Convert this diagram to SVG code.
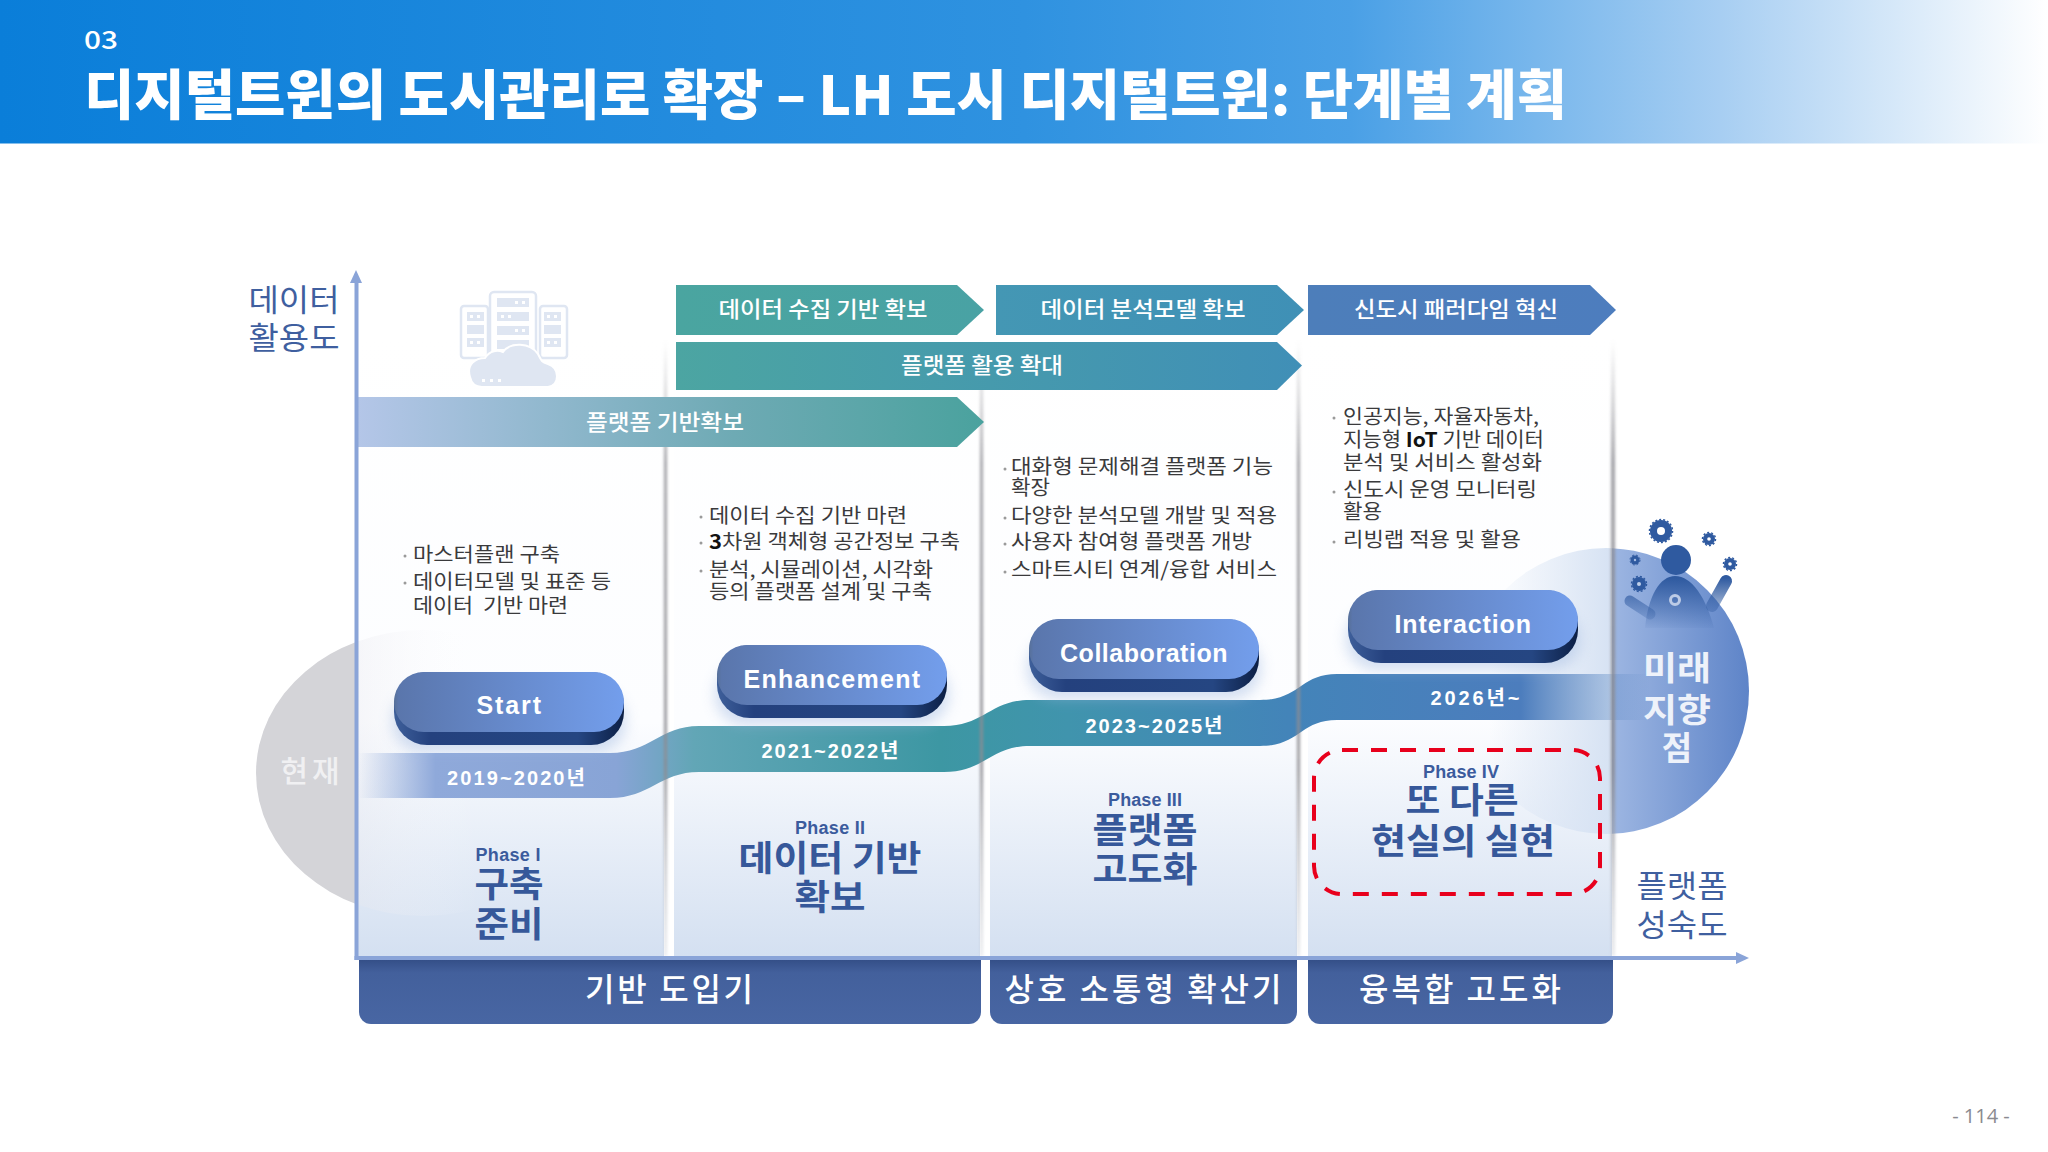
<svg xmlns="http://www.w3.org/2000/svg" width="2048" height="1152" viewBox="0 0 2048 1152">
<style>
text{font-family:"Noto Sans CJK KR","Noto Sans",sans-serif}
.lat{font-family:"Liberation Sans","Noto Sans CJK KR",sans-serif}
.h{fill:#fff;font-weight:900}
.al{fill:#fff;font-size:22px;font-weight:500;text-anchor:middle}
.b{fill:#3a3a3c;font-size:20px;font-weight:400}
.dot{fill:#9a9a9a}
.btn{fill:#fff;font-size:25px;font-weight:700;text-anchor:middle;letter-spacing:.5px}
.yr{fill:#fff;font-size:20px;font-weight:700;text-anchor:middle}
.ph{fill:#3b5b9d;font-size:18px;font-weight:700;text-anchor:middle}
.pt{fill:#36589a;font-size:35px;font-weight:700;text-anchor:middle}
.st{fill:#fff;font-size:32px;font-weight:500;text-anchor:middle}
.ax{fill:#3f5f9f;font-size:31px;font-weight:400;text-anchor:middle}
.fut{fill:#eef2fa;font-size:33px;font-weight:700;text-anchor:middle}
.disc{fill:#2f5aa0}
.ring{fill:none;stroke:#2f5aa0;stroke-dasharray:2 2}
.sh{fill:url(#shadow);filter:url(#b2)}
.ic{fill:#dfe6f2}
.wd{fill:#fff}
</style>
<defs>
<linearGradient id="head" x1="0" x2="1" y1="0" y2="0"><stop offset="0" stop-color="#0a7ed9"/><stop offset=".5" stop-color="#2f92e0"/><stop offset=".66" stop-color="#4aa0e6"/><stop offset=".84" stop-color="#a7cef2"/><stop offset="1" stop-color="#fff"/></linearGradient>
<linearGradient id="col" x1="0" x2="0" y1="0" y2="1"><stop offset="0" stop-color="#fff"/><stop offset=".62" stop-color="#fcfdff"/><stop offset="1" stop-color="#d4e0f1"/></linearGradient>
<linearGradient id="shadow" x1="0" x2="0" y1="0" y2="1"><stop offset="0" stop-color="#a0a0a6" stop-opacity="0"/><stop offset=".2" stop-color="#8c8c92" stop-opacity=".8"/><stop offset=".7" stop-color="#8c8c92" stop-opacity=".9"/><stop offset="1" stop-color="#b8bcc6" stop-opacity=".3"/></linearGradient>
<linearGradient id="a1" gradientUnits="userSpaceOnUse" x1="676" x2="984" y1="0" y2="0"><stop offset="0" stop-color="#4aa5a0"/><stop offset="1" stop-color="#49a2a4"/></linearGradient>
<linearGradient id="a2" gradientUnits="userSpaceOnUse" x1="996" x2="1304" y1="0" y2="0"><stop offset="0" stop-color="#4497b4"/><stop offset="1" stop-color="#3f90b6"/></linearGradient>
<linearGradient id="a3" gradientUnits="userSpaceOnUse" x1="1308" x2="1616" y1="0" y2="0"><stop offset="0" stop-color="#4d7eba"/><stop offset="1" stop-color="#4d7dbe"/></linearGradient>
<linearGradient id="a4" gradientUnits="userSpaceOnUse" x1="676" x2="1304" y1="0" y2="0"><stop offset="0" stop-color="#4ca5a2"/><stop offset="1" stop-color="#408fb7"/></linearGradient>
<linearGradient id="a5" gradientUnits="userSpaceOnUse" x1="358" x2="984" y1="0" y2="0"><stop offset="0" stop-color="#b4c6e8"/><stop offset=".6" stop-color="#6eaab4"/><stop offset="1" stop-color="#4aa29e"/></linearGradient>
<linearGradient id="wave" gradientUnits="userSpaceOnUse" x1="358" x2="1650" y1="0" y2="0"><stop offset="0" stop-color="#8fa9da" stop-opacity="0"/><stop offset=".06" stop-color="#8fa9da"/><stop offset=".2" stop-color="#88a4d6"/><stop offset=".26" stop-color="#62a6b6"/><stop offset=".45" stop-color="#3d97a3"/><stop offset=".55" stop-color="#4094ad"/><stop offset=".72" stop-color="#4384b9"/><stop offset=".9" stop-color="#4c7dbd"/><stop offset="1" stop-color="#4c7dbd" stop-opacity="0"/></linearGradient>
<linearGradient id="btop" x1="0" x2="1" y1="0" y2="0"><stop offset="0" stop-color="#577098"/><stop offset=".02" stop-color="#5a76ac"/><stop offset="1" stop-color="#739eec"/></linearGradient>
<linearGradient id="bside" x1="0" x2="1" y1="0" y2="0"><stop offset="0" stop-color="#3e5f9a"/><stop offset=".16" stop-color="#24417e"/><stop offset=".8" stop-color="#254682"/><stop offset="1" stop-color="#0c1f45"/></linearGradient>
<linearGradient id="band" x1="0" x2="0" y1="0" y2="1"><stop offset="0" stop-color="#344f88"/><stop offset=".2" stop-color="#43609c"/><stop offset="1" stop-color="#4866a3"/></linearGradient>
<linearGradient id="grey" gradientUnits="userSpaceOnUse" x1="356" x2="480" y1="0" y2="0"><stop offset="0" stop-color="#e8e8ee" stop-opacity=".35"/><stop offset="1" stop-color="#fff" stop-opacity="0"/></linearGradient>
<linearGradient id="blue" gradientUnits="userSpaceOnUse" x1="1612" x2="1749" y1="0" y2="0"><stop offset="0" stop-color="#9db6e2"/><stop offset="1" stop-color="#5e84c8"/></linearGradient>
<linearGradient id="blueL" gradientUnits="userSpaceOnUse" x1="1490" x2="1612" y1="0" y2="0"><stop offset="0" stop-color="#d6e2f3" stop-opacity="0"/><stop offset="1" stop-color="#d6e2f3"/></linearGradient>
<linearGradient id="person" gradientUnits="userSpaceOnUse" x1="0" x2="0" y1="578" y2="628"><stop offset="0" stop-color="#2f5aa0"/><stop offset="1" stop-color="#2f5aa0" stop-opacity=".05"/></linearGradient>
<filter id="b2" x="-200%" width="500%"><feGaussianBlur stdDeviation="1.6"/></filter>
<filter id="b8" x="-20%" y="-40%" width="140%" height="180%"><feGaussianBlur stdDeviation="7"/></filter>
<clipPath id="cL"><rect x="1400" y="500" width="212" height="400"/></clipPath>
<clipPath id="cR"><rect x="1612" y="500" width="200" height="400"/></clipPath>
<clipPath id="gL"><rect x="200" y="600" width="156" height="340"/></clipPath>
<clipPath id="gR"><rect x="356" y="600" width="150" height="340"/></clipPath>
<g id="button"><rect x="0" y="0" width="230" height="73" rx="33" fill="url(#bside)"/><rect x="0" y="0" width="230" height="60" rx="30" fill="url(#btop)"/></g>
</defs>

<g id="header">
<rect x="0" y="0" width="2048" height="143.500" fill="url(#head)"/>
<text class="h" x="84" y="49" font-size="25" style="font-weight:500" textLength="34" lengthAdjust="spacingAndGlyphs">03</text>
<text class="h" x="84" y="115" font-size="54" textLength="1483" lengthAdjust="spacingAndGlyphs">디지털트윈의 도시관리로 확장 – LH 도시 디지털트윈: 단계별 계획</text>
</g>

<g id="present-circle"><ellipse cx="423" cy="773" rx="167" ry="143" fill="#d4d4d8" clip-path="url(#gL)"/></g>

<g id="columns">
<rect x="358" y="340" width="306" height="616" fill="url(#col)"/>
<rect x="674" y="340" width="306" height="616" fill="url(#col)"/>
<rect x="990" y="340" width="307" height="616" fill="url(#col)"/>
<rect x="1308" y="336" width="304" height="620" fill="url(#col)"/>
<ellipse cx="423" cy="773" rx="167" ry="143" fill="url(#grey)" clip-path="url(#gR)"/>
<circle cx="1606" cy="691" r="143" fill="url(#blueL)" clip-path="url(#cL)"/>
</g>

<g id="future-circle">
<circle cx="1606" cy="691" r="143" fill="url(#blue)" clip-path="url(#cR)"/>
</g>

<g id="present-label"><text x="310" y="782" font-size="30" font-weight="500" fill="#f0f0f2" text-anchor="middle" textLength="59">현재</text></g>

<g id="cloud-icon">
<g fill="none" stroke="#dfe6f2" stroke-width="2.500"><rect x="490" y="292" width="46" height="66" rx="4"/><rect x="461" y="306" width="27" height="52" rx="3"/><rect x="540" y="306" width="27" height="52" rx="3"/></g>
<g class="ic">
<rect x="497" y="298" width="32" height="9"/><rect x="497" y="312" width="32" height="9"/><rect x="497" y="326" width="32" height="9"/><rect x="497" y="340" width="32" height="9"/>
<rect x="467" y="312" width="17" height="9"/><rect x="467" y="325" width="17" height="9"/><rect x="467" y="338" width="17" height="9"/>
<rect x="544" y="312" width="17" height="9"/><rect x="544" y="325" width="17" height="9"/><rect x="544" y="338" width="17" height="9"/>
<path d="M470,377 C466,364 476,358 485,358 C490,350 498,350 503,352 C510,342 530,342 538,354 C542,362 542,362 548,364 C560,368 560,385 548,387 L482,387 C474,387 471,382 470,377Z" stroke="#fff" stroke-width="2"/>
</g>
<g class="wd">
<rect x="515" y="301" width="3" height="3"/><rect x="522" y="301" width="3" height="3"/><rect x="501" y="315" width="3" height="3"/><rect x="508" y="315" width="3" height="3"/><rect x="515" y="329" width="3" height="3"/><rect x="522" y="329" width="3" height="3"/>
<rect x="470" y="315" width="3" height="3"/><rect x="477" y="315" width="3" height="3"/><rect x="470" y="341" width="3" height="3"/><rect x="477" y="341" width="3" height="3"/>
<rect x="547" y="315" width="3" height="3"/><rect x="554" y="315" width="3" height="3"/><rect x="547" y="341" width="3" height="3"/><rect x="554" y="341" width="3" height="3"/>
<rect x="482" y="379" width="3" height="3"/><rect x="490" y="379" width="3" height="3"/><rect x="498" y="379" width="3" height="3"/>
</g>
</g>

<g id="wave-band"><path d="M358,753 L610,753 C650,753 660,726 699,726 L944,726 C985,726 990,700 1030,700 L1260,700 C1300,700 1300,674 1337,674 L1650,674 L1650,720 L1337,720 C1300,720 1300,746 1260,746 L1030,746 C990,746 985,772 944,772 L699,772 C660,772 650,798 610,798 L358,798Z" fill="url(#wave)"/></g>

<g id="person-figure">
<circle class="disc" cx="1661" cy="531" r="11"/><circle class="ring" cx="1661" cy="531" r="11.500" stroke-width="1.500"/><circle cx="1661" cy="531" r="4" fill="#fff"/>
<circle class="disc" cx="1709" cy="539" r="6"/><circle class="ring" cx="1709" cy="539" r="6.500" stroke-width="1.500"/><circle cx="1709" cy="539" r="1.800" fill="#fff"/>
<circle class="disc" cx="1730" cy="564" r="6"/><circle class="ring" cx="1730" cy="564" r="6.500" stroke-width="1.500"/><circle cx="1730" cy="564" r="1.800" fill="#fff"/>
<circle class="disc" cx="1635" cy="560" r="4.500"/><circle class="ring" cx="1635" cy="560" r="5" stroke-width="1"/><circle cx="1635" cy="560" r="1.200" fill="#a8bee4"/>
<circle class="disc" cx="1639" cy="584" r="7"/><circle class="ring" cx="1639" cy="584" r="7.500" stroke-width="1.500"/><circle cx="1639" cy="584" r="2" fill="#c0d0ea"/>
<circle class="disc" cx="1676" cy="560" r="15"/>
<path d="M1645,628 C1648,596 1660,576 1675,576 C1692,576 1706,598 1714,628Z" fill="url(#person)"/>
<path d="M1630,601 L1650,614" stroke="url(#person)" stroke-width="11" stroke-linecap="round" fill="none"/>
<path d="M1726,581 L1712,606" stroke="url(#person)" stroke-width="12" stroke-linecap="round" fill="none"/>
<circle cx="1675" cy="600" r="4.500" fill="none" stroke="#bccbe6" stroke-width="3"/>
</g>
<g id="future-label">
<text class="fut" x="1677" y="680" textLength="68" lengthAdjust="spacingAndGlyphs">미래</text>
<text class="fut" x="1677" y="722" textLength="68" lengthAdjust="spacingAndGlyphs">지향</text>
<text class="fut" x="1677" y="760">점</text>
</g>

<g id="shadows">
<rect class="sh" x="664" y="340" width="3" height="616"/>
<rect class="sh" x="980" y="340" width="3" height="616"/>
<rect class="sh" x="1297" y="340" width="3" height="616"/>
<rect class="sh" x="1611" y="340" width="4" height="616"/>
</g>

<g id="arrow-1"><path d="M676,285 H957 L984,310 L957,335 H676Z" fill="url(#a1)"/><text class="al" x="823" y="317" textLength="209" lengthAdjust="spacingAndGlyphs">데이터 수집 기반 확보</text></g>
<g id="arrow-2"><path d="M996,285 H1277 L1304,310 L1277,335 H996Z" fill="url(#a2)"/><text class="al" x="1143" y="317" textLength="205" lengthAdjust="spacingAndGlyphs">데이터 분석모델 확보</text></g>
<g id="arrow-3"><path d="M1308,285 H1590 L1616,310 L1590,335 H1308Z" fill="url(#a3)"/><text class="al" x="1456" y="317" textLength="204" lengthAdjust="spacingAndGlyphs">신도시 패러다임 혁신</text></g>
<g id="arrow-4"><path d="M676,342 H1277 L1302,365.500 L1277,390 H676Z" fill="url(#a4)"/><text class="al" x="982" y="373" textLength="162" lengthAdjust="spacingAndGlyphs">플랫폼 활용 확대</text></g>
<g id="arrow-5"><path d="M358,397 H957 L984,422 L957,447 H358Z" fill="url(#a5)"/><text class="al" x="665" y="430" textLength="158" lengthAdjust="spacingAndGlyphs">플랫폼 기반확보</text></g>

<g id="text-1">
<circle class="dot" cx="405" cy="556" r="1.500"/><text class="b" x="413" y="562" textLength="147" lengthAdjust="spacingAndGlyphs">마스터플랜 구축</text>
<circle class="dot" cx="405" cy="583" r="1.500"/><text class="b" x="413" y="589" textLength="198" lengthAdjust="spacingAndGlyphs">데이터모델 및 표준 등</text>
<text class="b" x="413" y="613" textLength="155" lengthAdjust="spacingAndGlyphs" xml:space="preserve">데이터  기반 마련</text>
</g>
<g id="text-2">
<circle class="dot" cx="701" cy="517" r="1.500"/><text class="b" x="709" y="523" textLength="198" lengthAdjust="spacingAndGlyphs">데이터 수집 기반 마련</text>
<circle class="dot" cx="701" cy="543" r="1.500"/><text class="b" x="709" y="549" textLength="251" lengthAdjust="spacingAndGlyphs"><tspan font-weight="700" fill="#111">3</tspan>차원 객체형 공간정보 구축</text>
<circle class="dot" cx="701" cy="571" r="1.500"/><text class="b" x="709" y="577" textLength="224" lengthAdjust="spacingAndGlyphs">분석, 시뮬레이션, 시각화</text>
<text class="b" x="709" y="599" textLength="223" lengthAdjust="spacingAndGlyphs">등의 플랫폼 설계 및 구축</text>
</g>
<g id="text-3">
<circle class="dot" cx="1005" cy="469" r="1.500"/><text class="b" x="1011" y="474" textLength="262" lengthAdjust="spacingAndGlyphs">대화형 문제해결 플랫폼 기능</text>
<text class="b" x="1011" y="495" textLength="39" lengthAdjust="spacingAndGlyphs">확장</text>
<circle class="dot" cx="1005" cy="518" r="1.500"/><text class="b" x="1011" y="523" textLength="266" lengthAdjust="spacingAndGlyphs">다양한 분석모델 개발 및 적용</text>
<circle class="dot" cx="1005" cy="544" r="1.500"/><text class="b" x="1011" y="549" textLength="241" lengthAdjust="spacingAndGlyphs">사용자 참여형 플랫폼 개방</text>
<circle class="dot" cx="1005" cy="572" r="1.500"/><text class="b" x="1011" y="577" textLength="266" lengthAdjust="spacingAndGlyphs">스마트시티 연계/융합 서비스</text>
</g>
<g id="text-4">
<circle class="dot" cx="1334" cy="418" r="1.500"/><text class="b" x="1343" y="424" textLength="196" lengthAdjust="spacingAndGlyphs">인공지능, 자율자동차,</text>
<text class="b" x="1343" y="447" textLength="201" lengthAdjust="spacingAndGlyphs">지능형 <tspan font-weight="700" fill="#111">IoT</tspan> 기반 데이터</text>
<text class="b" x="1343" y="470" textLength="199" lengthAdjust="spacingAndGlyphs">분석 및 서비스 활성화</text>
<circle class="dot" cx="1334" cy="492" r="1.500"/><text class="b" x="1343" y="497" textLength="194" lengthAdjust="spacingAndGlyphs">신도시 운영 모니터링</text>
<text class="b" x="1343" y="519" textLength="39" lengthAdjust="spacingAndGlyphs">활용</text>
<circle class="dot" cx="1334" cy="542" r="1.500"/><text class="b" x="1343" y="547" textLength="178" lengthAdjust="spacingAndGlyphs">리빙랩 적용 및 활용</text>
</g>

<g id="phase-1">
<rect x="392" y="690" width="234" height="62" rx="30" fill="#9fb8e0" opacity=".45" filter="url(#b8)"/>
<use href="#button" x="394" y="672"/>
<text class="btn lat" x="509" y="714" textLength="65">Start</text>
<text class="yr lat" x="516" y="785" textLength="138">2019~2020년</text>
<text class="ph lat" x="508" y="861" textLength="65">Phase I</text>
<text class="pt" x="509" y="897" textLength="69" lengthAdjust="spacingAndGlyphs">구축</text><text class="pt" x="509" y="937" textLength="69" lengthAdjust="spacingAndGlyphs">준비</text>
</g>
<g id="phase-2">
<rect x="715" y="663" width="234" height="62" rx="30" fill="#9fb8e0" opacity=".45" filter="url(#b8)"/>
<use href="#button" x="717" y="645"/>
<text class="btn lat" x="832" y="688" textLength="177">Enhancement</text>
<text class="yr lat" x="830" y="758" textLength="137">2021~2022년</text>
<text class="ph lat" x="830" y="834" textLength="70">Phase II</text>
<text class="pt" x="830" y="871" textLength="183" lengthAdjust="spacingAndGlyphs">데이터 기반</text><text class="pt" x="830" y="910" textLength="71" lengthAdjust="spacingAndGlyphs">확보</text>
</g>
<g id="phase-3">
<rect x="1027" y="637" width="234" height="62" rx="30" fill="#9fb8e0" opacity=".45" filter="url(#b8)"/>
<use href="#button" x="1029" y="619"/>
<text class="btn lat" x="1144" y="662" textLength="168">Collaboration</text>
<text class="yr lat" x="1154" y="733" textLength="137">2023~2025년</text>
<text class="ph lat" x="1145" y="806" textLength="74">Phase III</text>
<text class="pt" x="1145" y="843" textLength="105" lengthAdjust="spacingAndGlyphs">플랫폼</text><text class="pt" x="1145" y="882" textLength="105" lengthAdjust="spacingAndGlyphs">고도화</text>
</g>
<g id="phase-4">
<rect x="1346" y="608" width="234" height="62" rx="30" fill="#9fb8e0" opacity=".45" filter="url(#b8)"/>
<use href="#button" x="1348" y="590"/>
<text class="btn lat" x="1463" y="633" textLength="137">Interaction</text>
<text class="yr lat" x="1475" y="705" textLength="89">2026년~</text>
<rect x="1314" y="750" width="286" height="144" rx="28" fill="none" stroke="#e8001c" stroke-width="4" stroke-dasharray="16 13"/>
<text class="ph lat" x="1461" y="778" textLength="76">Phase IV</text>
<text class="pt" x="1462" y="813" textLength="113" lengthAdjust="spacingAndGlyphs">또 다른</text><text class="pt" x="1463" y="854" textLength="184" lengthAdjust="spacingAndGlyphs">현실의 실현</text>
</g>

<g id="stage-bands">
<g id="stage-1"><path d="M359,960 H981 V1012 a12,12 0 0 1 -12,12 H371 a12,12 0 0 1 -12,-12Z" fill="url(#band)"/><text class="st" x="669" y="1001" textLength="168">기반 도입기</text></g>
<g id="stage-2"><path d="M990,960 H1297 V1012 a12,12 0 0 1 -12,12 H1002 a12,12 0 0 1 -12,-12Z" fill="url(#band)"/><text class="st" x="1143" y="1001" textLength="277">상호 소통형 확산기</text></g>
<g id="stage-3"><path d="M1308,960 H1613 V1012 a12,12 0 0 1 -12,12 H1320 a12,12 0 0 1 -12,-12Z" fill="url(#band)"/><text class="st" x="1460" y="1001" textLength="202">융복합 고도화</text></g>
</g>

<g id="axes" fill="#8aa4d8">
<rect x="354.500" y="280" width="4" height="680"/>
<path d="M356,270 L362,283 H350Z"/>
<rect x="354.500" y="956" width="1385" height="4"/>
<path d="M1749,958 L1736,952 V964Z"/>
</g>

<g id="axis-labels">
<text class="ax" x="294" y="311" textLength="91" lengthAdjust="spacingAndGlyphs">데이터</text><text class="ax" x="294" y="349" textLength="91" lengthAdjust="spacingAndGlyphs">활용도</text>
<text class="ax" x="1682" y="897" textLength="91" lengthAdjust="spacingAndGlyphs">플랫폼</text><text class="ax" x="1682" y="936" textLength="91" lengthAdjust="spacingAndGlyphs">성숙도</text>
</g>

<g id="page"><text x="1981" y="1123" font-size="20" fill="#8a8a90" text-anchor="middle" style="font-family:'Open Sans',sans-serif">- 114 -</text></g>
</svg>
